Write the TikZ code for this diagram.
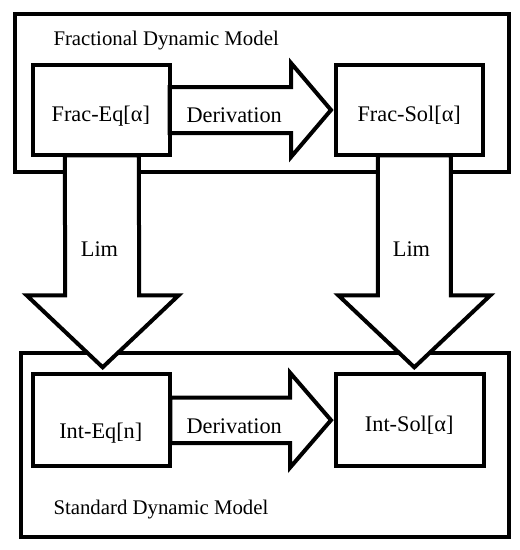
\documentclass[tikz,border=0pt]{standalone}
\usepackage{fontspec}
\setmainfont{Liberation Serif}
\usetikzlibrary{calc}
\begin{document}
\begin{tikzpicture}[x=1pt,y=-1pt,
  outerbox/.style={draw, line width=4pt, inner sep=0pt, outer sep=0pt},
  innerbox/.style={draw, line width=4pt, inner sep=0pt, outer sep=0pt},
  barrow/.style={draw, fill=white, line width=4pt, line join=miter},
  lbl/.style={inner sep=0pt, anchor=base, font=\fontsize{22.3}{26}\selectfont},
  ttl/.style={inner sep=0pt, anchor=base west, font=\fontsize{20.8}{24}\selectfont}]
\useasboundingbox (0,0) rectangle (520,550);
% outer model boxes
\node[outerbox, minimum width=493.4pt, minimum height=158pt] (top) at (262,93) {};
\node[outerbox, minimum width=487.7pt, minimum height=184.3pt] (bot) at (264.85,444.85) {};
% inner boxes (placed as coordinates first for arrows)
\node[innerbox, minimum width=136.7pt, minimum height=90.6pt] (fe) at (101.35,110) {};
\node[innerbox, minimum width=146.7pt, minimum height=90.6pt] (fs) at (409.35,110) {};
\node[innerbox, minimum width=137.3pt, minimum height=91.7pt] (ie) at (101.65,420.15) {};
\node[innerbox, minimum width=147.7pt, minimum height=91.7pt] (is) at (409.85,420.15) {};
% block arrows
\draw[barrow] ($(fe.east)+(0,-23)$) -- ($(fs.west)+(-45,-23)$) -- ($(fs.west)+(-45,-47)$)
  -- ($(fs.west)+(-5,0)$) -- ($(fs.west)+(-45,47)$) -- ($(fs.west)+(-45,23)$)
  -- ($(fe.east)+(0,23)$) -- cycle;
\draw[barrow] ($(ie.east)+(0,-22.5)$) -- ($(is.west)+(-46,-22.5)$) -- ($(is.west)+(-46,-47.5)$)
  -- ($(is.west)+(-5,0)$) -- ($(is.west)+(-46,47.5)$) -- ($(is.west)+(-46,23)$)
  -- ($(ie.east)+(0,23)$) -- cycle;
\draw[barrow] ($(fe.south)+(-36.5,0)$) -- ($(ie.north)+(-36.5,-79)$) -- ($(ie.north)+(-75,-79)$)
  -- ($(ie.north)+(1,-7)$) -- ($(ie.north)+(77,-79)$) -- ($(ie.north)+(37.5,-79)$)
  -- ($(fe.south)+(37.5,0)$) -- cycle;
\draw[barrow] ($(fs.south)+(-31.5,0)$) -- ($(is.north)+(-32,-79)$) -- ($(is.north)+(-71.5,-79)$)
  -- ($(is.north)+(4.5,-7)$) -- ($(is.north)+(80.5,-79)$) -- ($(is.north)+(41,-79)$)
  -- ($(fs.south)+(41.5,0)$) -- cycle;
% redraw inner boxes on top
\node[innerbox, minimum width=136.7pt, minimum height=90.6pt] at (fe) {};
\node[innerbox, minimum width=146.7pt, minimum height=90.6pt] at (fs) {};
\node[innerbox, minimum width=137.3pt, minimum height=91.7pt] at (ie) {};
\node[innerbox, minimum width=147.7pt, minimum height=91.7pt] at (is) {};
% texts
\node[ttl] (ttop) at (53.3,45.7) {Fractional Dynamic Model};
\node[ttl] (tbot) at (53.3,514) {Standard Dynamic Model};
\node[lbl] (feT) at (100.85,121.7) {Frac-Eq[α]};
\node[lbl] (fsT) at (409.2,121.7) {Frac-Sol[α]};
\node[lbl] (ieT) at (100.8,438.3) {Int-Eq[n]};
\node[lbl] (isT) at (409.2,431.7) {Int-Sol[α]};
\node[lbl] (d1) at (234.2,122.3) {Derivation};
\node[lbl] (d2) at (234.2,433.3) {Derivation};
\node[lbl] (l1) at (99.5,256) {Lim};
\node[lbl] (l2) at (411.5,256) {Lim};
\end{tikzpicture}
\end{document}
